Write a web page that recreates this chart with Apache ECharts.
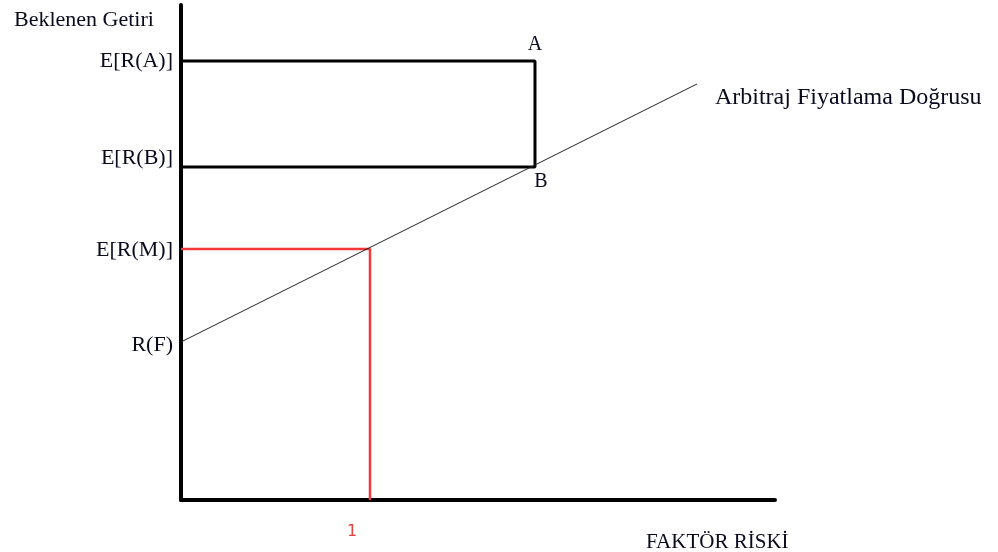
<!DOCTYPE html>
<html lang="tr">
<head>
    <meta charset="UTF-8">
    <title>Arbitraj Fiyatlama Doğrusu</title>
    <style>
        html,body{margin:0;padding:0;background:#fff;}
        #main{width:998px;height:552px;}
    </style>
</head>
<body>
    <div id="main"></div>
    <script src="https://cdn.jsdelivr.net/npm/echarts@6/dist/echarts.min.js"></script>
    <script>
        // y seviyeleri (beklenen getiri)
        var levelNames = ['E[R(A)]', 'E[R(B)]', 'E[R(M)]', 'R(F)'];
        var levelValues = [4.39, 3.33, 2.51, 1.58];
        // faktor riski
        var betaM = 1;
        var betaAB = 1.873;
        var xTicks = [1];
        // dogru: baslangic ve bitis
        var aplX = [0, 2.73];
        var aplY = [1.58, 4.16];

        var font = 'Liberation Serif';
        var ink = '#0a0a1e';

        var yA = levelValues[0], yB = levelValues[1], yM = levelValues[2];

        var levelOffsets = [[0, 0], [0, -9], [0, 1], [0, 3]];
        var levelLabels = levelNames.map(function (n, i) {
            return {
                value: [0, levelValues[i]],
                label: { formatter: n, offset: levelOffsets[i] }
            };
        });

        var chart = echarts.init(document.getElementById('main'));
        chart.setOption({
            animation: false,
            title: [
                { text: 'Beklenen Getiri', left: 9, top: 4,
                  textStyle: { fontFamily: font, fontSize: 22, fontWeight: 'normal', color: ink } },
                { text: 'FAKTÖR RİSKİ', left: 641, top: 527,
                  textStyle: { fontFamily: font, fontSize: 21, fontWeight: 'normal', color: ink } }
            ],
            grid: { left: 181, right: 223, top: 5, bottom: 52 },
            xAxis: {
                type: 'value', min: 0, max: 3.143,
                axisLine: { lineStyle: { color: '#000', width: 4 } },
                axisTick: { show: false }, splitLine: { show: false },
                axisLabel: { show: false }
            },
            yAxis: {
                type: 'value', min: 0, max: 4.95,
                axisLine: { show: true, lineStyle: { color: '#000', width: 4 } },
                axisTick: { show: false }, splitLine: { show: false },
                axisLabel: { show: false }
            },
            series: [
                {
                    type: 'line', symbol: 'none', silent: true,
                    lineStyle: { color: '#000', width: 3 },
                    data: [[0, yA], [betaAB, yA], [betaAB, yB], [0, yB]]
                },
                {
                    type: 'line', symbol: 'none', silent: true,
                    lineStyle: { color: '#f23a3a', width: 2.5 },
                    data: [[0, yM], [betaM, yM], [betaM, 0]]
                },
                {
                    type: 'line', symbol: 'none', silent: true,
                    lineStyle: { color: '#222', width: 1 },
                    data: [[aplX[0], aplY[0]], [aplX[1], aplY[1]]],
                    endLabel: {
                        show: true, formatter: 'Arbitraj Fiyatlama Doğrusu',
                        fontFamily: font, fontSize: 24, color: ink,
                        offset: [10, 14]
                    }
                },
                {
                    type: 'scatter', symbolSize: 0, silent: true,
                    itemStyle: { opacity: 1 },
                    label: {
                        show: true, position: 'left', distance: 8,
                        fontFamily: font, fontSize: 22, color: ink
                    },
                    data: levelLabels
                },
                {
                    type: 'scatter', symbolSize: 0, silent: true,
                    itemStyle: { opacity: 1 },
                    label: { show: true, fontFamily: font, fontSize: 20, color: ink },
                    data: [
                        { value: [betaAB, yA], label: { formatter: 'A', position: 'top', distance: 6 } },
                        { value: [betaAB, yB], label: { formatter: 'B', position: 'bottom', distance: 5, offset: [6, 0] } }
                    ]
                },
                {
                    type: 'scatter', symbolSize: 0, silent: true,
                    itemStyle: { opacity: 1 },
                    label: {
                        show: true, position: 'bottom', distance: 24, offset: [-18, 0],
                        fontFamily: 'DejaVu Sans', fontSize: 16, color: '#e8413c',
                        formatter: function (p) { return String(p.value[0]); }
                    },
                    data: xTicks.map(function (t) { return [t, 0]; })
                }
            ]
        });
    </script>
</body>
</html>
